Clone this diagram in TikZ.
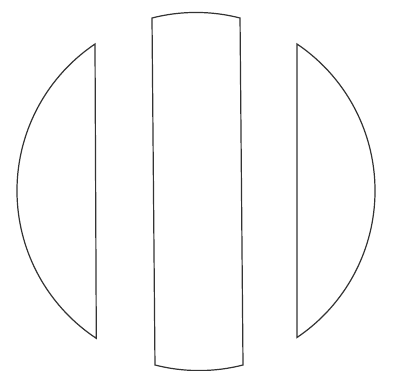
\documentclass[tikz,border=0pt]{standalone}
\usepackage{tikz}
\usetikzlibrary{calc,positioning}

\tikzset{piece/.style={draw=black!80,line width=1.2pt,line join=miter}}

\begin{document}
\begin{tikzpicture}[x=1pt,y=1pt]
				\useasboundingbox (0,0) rectangle (393,370);
				%\draw[color=gray,step=10pt, help lines,opacity=0.3] (0,0) grid (393,370); %help grids
				% left cap
				\draw[piece] (95,326) arc[start angle=124, end angle=236.5, radius=177] -- cycle;
				% middle strip
				\draw[piece] (152,352) arc[start angle=104.4, end angle=75.6, radius=177]
					-- (243,5) arc[start angle=284.4, end angle=255.6, radius=177] -- cycle;
				% right cap
				\draw[piece] (297,326) arc[start angle=56, end angle=-56, radius=177] -- cycle;
\end{tikzpicture}
\end{document}
